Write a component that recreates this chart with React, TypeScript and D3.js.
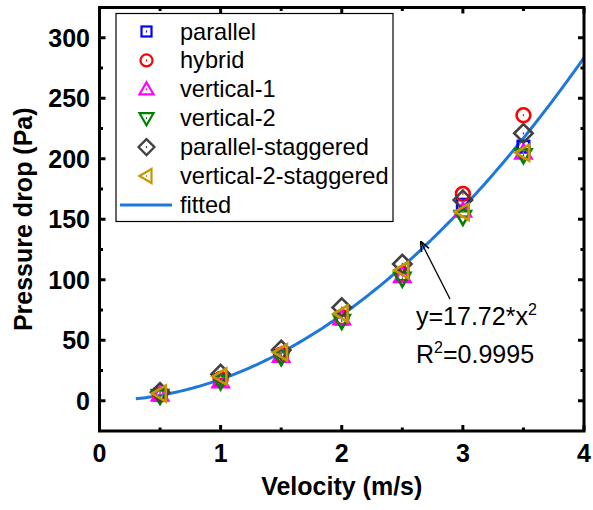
import React from "react";
import * as d3 from "d3";

const velocities = [0.5, 1, 1.5, 2, 2.5, 3, 3.5];
const parallel = [5, 17, 37, 68, 104, 162, 210];
const hybrid = [5, 18, 38, 69, 105, 171, 236];
const vertical1 = [5, 16, 37, 68, 103, 157, 205];
const vertical2 = [4, 16, 36, 66, 101, 152, 203];
const parallelStaggered = [7, 22, 42, 77, 113, 166, 221];
const vertical2Staggered = [6, 20, 40, 72, 108, 156, 205];
const fitCoef = 17.72;
const fitRange = [0.3, 4];
const xTicks = [0, 1, 2, 3, 4];
const yTicks = [0, 50, 100, 150, 200, 250, 300];

type Shape = "square" | "circle" | "up" | "down" | "diamond" | "left";
const seriesList: { name: string; values: number[]; color: string; shape: Shape }[] = [
  { name: "parallel", values: parallel, color: "#0000FF", shape: "square" },
  { name: "hybrid", values: hybrid, color: "#FF0000", shape: "circle" },
  { name: "vertical-1", values: vertical1, color: "#FF00FF", shape: "up" },
  { name: "vertical-2", values: vertical2, color: "#008000", shape: "down" },
  { name: "parallel-staggered", values: parallelStaggered, color: "#404040", shape: "diamond" },
  { name: "vertical-2-staggered", values: vertical2Staggered, color: "#C89600", shape: "left" },
];

const FONT = "'Liberation Sans', Arial, sans-serif";

function Marker({ x, y, shape, color, k = 1, sw = 2 }: { x: number; y: number; shape: Shape; color: string; k?: number; sw?: number }) {
  let el: React.ReactNode;
  if (shape === "square") {
    el = <rect x={x - 5 * k} y={y - 5 * k} width={10 * k} height={10 * k} fill="none" stroke={color} strokeWidth={sw} />;
  } else if (shape === "circle") {
    el = <circle cx={x} cy={y} r={6 * k} fill="none" stroke={color} strokeWidth={sw} />;
  } else if (shape === "up") {
    el = <path d={`M${x},${y - 7 * k}L${x + 7 * k},${y + 5 * k}L${x - 7 * k},${y + 5 * k}Z`} fill="none" stroke={color} strokeWidth={sw} />;
  } else if (shape === "down") {
    el = <path d={`M${x},${y + 7 * k}L${x + 7 * k},${y - 5 * k}L${x - 7 * k},${y - 5 * k}Z`} fill="none" stroke={color} strokeWidth={sw} />;
  } else if (shape === "diamond") {
    el = <path d={`M${x},${y - 8 * k}L${x + 8 * k},${y}L${x},${y + 8 * k}L${x - 8 * k},${y}Z`} fill="none" stroke={color} strokeWidth={sw} />;
  } else {
    el = <path d={`M${x - 7 * k},${y}L${x + 5 * k},${y - 7 * k}L${x + 5 * k},${y + 7 * k}Z`} fill="none" stroke={color} strokeWidth={sw} />;
  }
  return (
    <g>
      {el}
      <rect x={x - 0.6} y={y - 1} width={1.2} height={2} fill={color} />
    </g>
  );
}

export default function App() {
  const W = 593, H = 510;
  const left = 99.5, right = 584, top = 7.5, bottom = 431;
  const x = d3.scaleLinear().domain([0, 4]).range([left, right]);
  const y = d3.scaleLinear().domain([-25, 325]).range([bottom, top]);

  const fitXs = d3.range(fitRange[0], fitRange[1] + 1e-9, 0.02);
  const line = d3.line<number>().x((d) => x(d)).y((d) => y(fitCoef * d * d));

  const xMinor = d3.range(0.5, 4, 1);
  const yMinor = d3.range(-25, 325, 50).filter((v) => v > -25);

  const major = 6, minor = 3.5;

  const legendRows = [...seriesList.map((s) => s.name), "fitted"];
  const legX = 116, legY = 13.5, legW = 277, legH = 208;
  const rowY0 = 31.5, rowDy = 28.9;

  return (
    <svg width={W} height={H} style={{ position: "absolute", left: 0, top: 0 }} fontFamily={FONT}>
      <rect width={W} height={H} fill="white" />
      {/* fitted curve */}
      <path d={line(fitXs) || ""} fill="none" stroke="#1E78DC" strokeWidth={3} />
      {/* markers */}
      {seriesList.map((s) => (
        <g key={s.name}>
          {s.values.map((v, i) => (
            <Marker key={i} x={x(velocities[i])} y={y(v)} shape={s.shape} color={s.color} k={1.15} sw={2.6} />
          ))}
        </g>
      ))}
      {/* frame */}
      <rect x={left} y={top} width={right - left} height={bottom - top} fill="none" stroke="black" strokeWidth={3} />
      {/* ticks */}
      {xTicks.map((t) => (
        <g key={"xt" + t}>
          <line x1={x(t)} x2={x(t)} y1={bottom} y2={bottom - major} stroke="black" strokeWidth={3} />
          <line x1={x(t)} x2={x(t)} y1={top} y2={top + major} stroke="black" strokeWidth={3} />
          <text x={x(t)} y={462} textAnchor="middle" fontSize={25} fontWeight="bold">{t}</text>
        </g>
      ))}
      {xMinor.map((t) => (
        <g key={"xm" + t}>
          <line x1={x(t)} x2={x(t)} y1={bottom} y2={bottom - minor} stroke="black" strokeWidth={3} />
          <line x1={x(t)} x2={x(t)} y1={top} y2={top + minor} stroke="black" strokeWidth={3} />
        </g>
      ))}
      {yTicks.map((t) => (
        <g key={"yt" + t}>
          <line x1={left} x2={left + major} y1={y(t)} y2={y(t)} stroke="black" strokeWidth={3} />
          <line x1={right} x2={right - major} y1={y(t)} y2={y(t)} stroke="black" strokeWidth={3} />
          <text x={90} y={y(t) + 9} textAnchor="end" fontSize={25} fontWeight="bold">{t}</text>
        </g>
      ))}
      {yMinor.map((t) => (
        <g key={"ym" + t}>
          <line x1={left} x2={left + minor} y1={y(t)} y2={y(t)} stroke="black" strokeWidth={3} />
          <line x1={right} x2={right - minor} y1={y(t)} y2={y(t)} stroke="black" strokeWidth={3} />
        </g>
      ))}
      {/* axis titles */}
      <text x={(left + right) / 2} y={495} textAnchor="middle" fontSize={25} fontWeight="bold">Velocity (m/s)</text>
      <text transform={`translate(32,${(top + bottom) / 2}) rotate(-90)`} textAnchor="middle" fontSize={25} fontWeight="bold">Pressure drop (Pa)</text>
      {/* legend */}
      <rect x={legX} y={legY} width={legW} height={legH} fill="white" stroke="black" strokeWidth={1.2} />
      {legendRows.map((name, i) => {
        const cy = rowY0 + i * rowDy;
        const s = seriesList[i];
        return (
          <g key={name}>
            {s ? (
              <Marker x={146.5} y={cy} shape={s.shape} color={s.color} sw={2.2} />
            ) : (
              <line x1={120} x2={172} y1={cy} y2={cy} stroke="#1E78DC" strokeWidth={3} />
            )}
            <text x={180} y={cy + 8} fontSize={23.6}>{name}</text>
          </g>
        );
      })}
      {/* annotation */}
      <defs>
        <marker id="arrow" viewBox="0 0 10 10" refX="9" refY="5" markerWidth="8" markerHeight="8" orient="auto-start-reverse">
          <path d="M0,1L10,5L0,9" fill="none" stroke="black" strokeWidth={1.5} />
        </marker>
      </defs>
      <line x1={450} y1={299} x2={421} y2={242} stroke="black" strokeWidth={1.3} markerEnd="url(#arrow)" />
      <text x={416} y={325} fontSize={25}>
        y=17.72*x<tspan dy={-10} fontSize={16}>2</tspan>
      </text>
      <text x={416} y={363} fontSize={25}>
        R<tspan dy={-10} fontSize={16}>2</tspan><tspan dy={10}>=0.9995</tspan>
      </text>
    </svg>
  );
}
